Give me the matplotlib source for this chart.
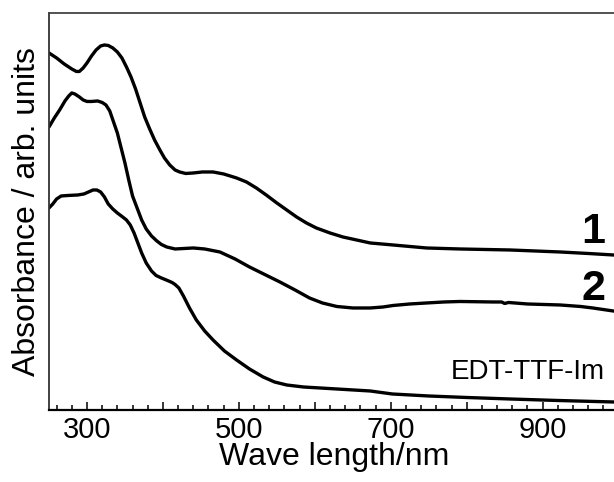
#!/usr/bin/env python3

import matplotlib
matplotlib.use("Agg")
import matplotlib.pyplot as plt
from matplotlib.ticker import FixedLocator, MultipleLocator, FuncFormatter

###############################################################################
# Data (arbitrary absorbance units)
###############################################################################

wl_1 = [250, 260, 270, 280, 286, 290, 295, 300, 306, 312, 318, 323, 328,
        334, 340, 346, 352, 358, 364, 370, 376, 382, 389, 396, 402, 409,
        416, 422, 430, 440, 452, 466, 480, 497, 510, 523, 536, 550, 563,
        576, 589, 602, 620, 637, 655, 673, 703, 747, 791, 857, 923, 960,
        993, 1000]
abs_1 = [3.57, 3.52, 3.46, 3.41, 3.385, 3.385, 3.42, 3.47, 3.54, 3.60, 3.64,
         3.65, 3.645, 3.62, 3.58, 3.52, 3.43, 3.33, 3.21, 3.07, 2.93, 2.82,
         2.70, 2.60, 2.52, 2.45, 2.40, 2.38, 2.365, 2.37, 2.38, 2.38, 2.36,
         2.32, 2.28, 2.22, 2.15, 2.07, 2.00, 1.93, 1.87, 1.82, 1.77, 1.73,
         1.70, 1.67, 1.65, 1.62, 1.61, 1.60, 1.58, 1.565, 1.55, 1.545]

wl_2 = [250, 257, 264, 271, 276, 280, 284, 290, 295, 300, 306, 314, 320,
        325, 330, 335, 340, 345, 350, 355, 360, 366, 372, 378, 385, 392,
        398, 405, 416, 428, 440, 455, 475, 495, 514, 534, 554, 574, 593,
        610, 629, 650, 673, 690, 703, 725, 747, 770, 791, 835, 846, 850,
        855, 880, 923, 950, 966, 993, 1000]
abs_2 = [2.83, 2.92, 3.00, 3.09, 3.14, 3.17, 3.16, 3.13, 3.10, 3.085, 3.085,
         3.09, 3.075, 3.05, 2.99, 2.88, 2.77, 2.62, 2.47, 2.30, 2.14, 2.02,
         1.90, 1.81, 1.74, 1.69, 1.655, 1.63, 1.61, 1.615, 1.62, 1.61, 1.58,
         1.51, 1.43, 1.355, 1.28, 1.20, 1.12, 1.07, 1.035, 1.02, 1.02, 1.03,
         1.045, 1.06, 1.07, 1.08, 1.085, 1.08, 1.08, 1.065, 1.075, 1.06,
         1.05, 1.035, 1.02, 0.99, 0.98]

wl_im = [250, 255, 260, 266, 275, 288, 296, 302, 308, 313, 318, 323, 328,
         334, 340, 347, 352, 357, 362, 367, 372, 378, 385, 391, 398, 406,
         412, 416, 421, 427, 435, 444, 455, 466, 481, 497, 514, 532, 547,
         563, 585, 607, 640, 673, 702, 750, 800, 857, 920, 994, 1000]
abs_im = [2.02, 2.06, 2.11, 2.14, 2.145, 2.15, 2.16, 2.18, 2.20, 2.20, 2.18,
          2.13, 2.06, 2.01, 1.97, 1.93, 1.90, 1.85, 1.77, 1.67, 1.57, 1.47,
          1.39, 1.345, 1.32, 1.295, 1.275, 1.255, 1.22, 1.14, 1.02, 0.90,
          0.79, 0.70, 0.59, 0.50, 0.41, 0.33, 0.28, 0.25, 0.23, 0.22, 0.205,
          0.19, 0.16, 0.14, 0.125, 0.11, 0.095, 0.08, 0.08]

labels = ["1", "2", "EDT-TTF-Im"]
label_y = [1.67, 1.10, 0.31]

xticks = [300, 400, 500, 600, 700, 800, 900, 1000]
xticklabels = {300: "300", 500: "500", 700: "700", 900: "900"}

###############################################################################
# Plot
###############################################################################

plt.rcParams["font.family"] = ["Liberation Sans", "DejaVu Sans"]

fig = plt.figure(figsize=(6.14, 4.82), dpi=100)
ax = fig.add_axes([0.0798, 0.1494, 0.9277, 0.8237])

for wl, ab in [(wl_1, abs_1), (wl_2, abs_2), (wl_im, abs_im)]:
    ax.plot(wl, ab, color="black", linewidth=2.4,
            solid_capstyle="round", solid_joinstyle="round")

ax.text(983, label_y[0], labels[0], ha="right", va="baseline",
        fontsize=31, fontweight="bold")
ax.text(983, label_y[1], labels[1], ha="right", va="baseline",
        fontsize=31, fontweight="bold")
ax.text(982, label_y[2], labels[2], ha="right", va="baseline", fontsize=20)

###############################################################################
# Formatting
###############################################################################

ax.set_xlim(250, 1000)
ax.set_ylim(0, 3.97)

ax.xaxis.set_major_locator(FixedLocator(xticks))
ax.xaxis.set_minor_locator(MultipleLocator(20))
ax.xaxis.set_major_formatter(
    FuncFormatter(lambda v, p: xticklabels.get(int(round(v)), ""))
)
ax.tick_params(axis="x", which="major", direction="in", length=6,
               width=1.1, labelsize=21, pad=4)
ax.tick_params(axis="x", which="minor", direction="in", length=3.5,
               width=1.1)
ax.set_yticks([])

ax.set_xlabel("Wave length/nm", fontsize=23, labelpad=-1)
ax.set_ylabel("Absorbance / arb. units", fontsize=23, labelpad=5)

ax.spines["right"].set_visible(False)
ax.spines["bottom"].set_linewidth(1.6)
ax.spines["left"].set_linewidth(1.3)
ax.spines["top"].set_linewidth(1.3)
ax.spines["left"].set_color("#333333")
ax.spines["top"].set_color("#444444")

plt.savefig("out.png", dpi=100)
